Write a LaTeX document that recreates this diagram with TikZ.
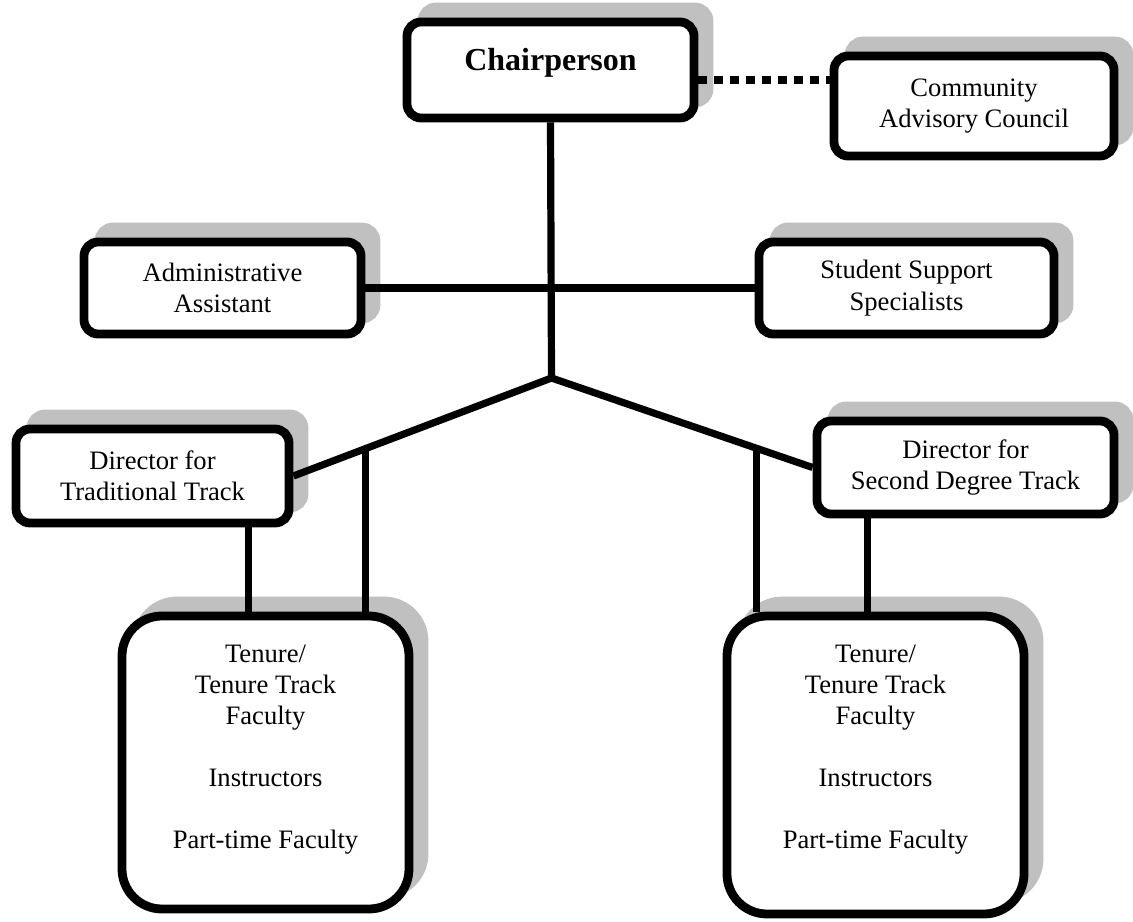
\documentclass[tikz,border=0pt]{standalone}
\usepackage{fontspec}
\setmainfont{Liberation Serif}
\usetikzlibrary{shapes, backgrounds, shadows, positioning}
\definecolor{shadowgray}{RGB}{192,192,192}
\tikzset{
  orgshadow/.style={general shadow={fill=shadowgray, draw=shadowgray,
      shadow xshift=7.5pt, shadow yshift=7.5pt}},
  orgbox/.style={draw, line width=4.4pt, fill=white, rounded corners=7pt,
      align=center, inner sep=2pt, orgshadow,
      font=\fontsize{13.3}{15.75}\selectfont},
  facbox/.style={orgbox, rounded corners=20pt},
  factext/.style={align=center, inner sep=0pt, font=\fontsize{13.3}{15.5}\selectfont},
  link/.style={line width=3.6pt},
  advline/.style={line width=4.2pt, dash pattern=on 4.5pt off 3.5pt},
}
\begin{document}
\begin{tikzpicture}[x=0.5pt,y=0.5pt]
\path[use as bounding box] (0,0) rectangle (1133,921);

% boxes
\node[orgbox, minimum width=143.5pt, minimum height=48pt,
  font=\bfseries\fontsize{16}{19}\selectfont] (chair) at (550.5,851) {\raisebox{11pt}{Chairperson}};
\node[orgbox, minimum width=140pt, minimum height=50pt] (cac) at (974,815) {Community\\Advisory Council};
\node[orgbox, minimum width=138.5pt, minimum height=46pt] (admin) at (222.5,633) {Administrative\\Assistant};
\node[orgbox, minimum width=147.5pt, minimum height=46pt] (ssp) at (906.5,633) {Student Support\\Specialists};
\node[orgbox, minimum width=136.5pt, minimum height=47pt] (dirtrad) at (152.5,445) {Director for\\Traditional Track};
\node[orgbox, minimum width=148.5pt, minimum height=46.5pt] (dirsec) at (965.5,453.5) {Director for\\Second Degree Track};
\node[facbox, minimum width=143.5pt, minimum height=146.5pt] (facL) at (265.5,158.5) {};
\node[facbox, minimum width=148.5pt, minimum height=149pt] (facR) at (875.5,156) {};
\node[factext] (facLtxt) at ([yshift=6.25pt]facL.center)
  {Tenure/\\Tenure Track\\Faculty\\[15.5pt]Instructors\\[15.5pt]Part-time Faculty};
\node[factext] (facRtxt) at ([yshift=7.5pt]facR.center)
  {Tenure/\\Tenure Track\\Faculty\\[15.5pt]Instructors\\[15.5pt]Part-time Faculty};

% connectors
\coordinate (junc) at (551.5,543);
\draw[link] (chair.south) -- (junc);
\draw[link] (admin.east) -- (ssp.west);
\draw[link, line join=miter] (dirtrad.east) -- coordinate[pos=0.28] (tapL) (junc)
  -- coordinate[pos=0.785] (tapR) (dirsec.west);
\draw[link] (tapL) -- (tapL |- facL.north);
\draw[link] ([xshift=48pt]dirtrad.south) -- ([xshift=48pt]dirtrad.south |- facL.north);
\draw[link] (tapR) -- (tapR |- facR.north);
\draw[link] ([xshift=-49pt]dirsec.south) -- ([xshift=-49pt]dirsec.south |- facR.north);
\draw[advline] ([yshift=-5pt]chair.east) -- ([yshift=-5pt]chair.east -| cac.west);
\end{tikzpicture}
\end{document}
